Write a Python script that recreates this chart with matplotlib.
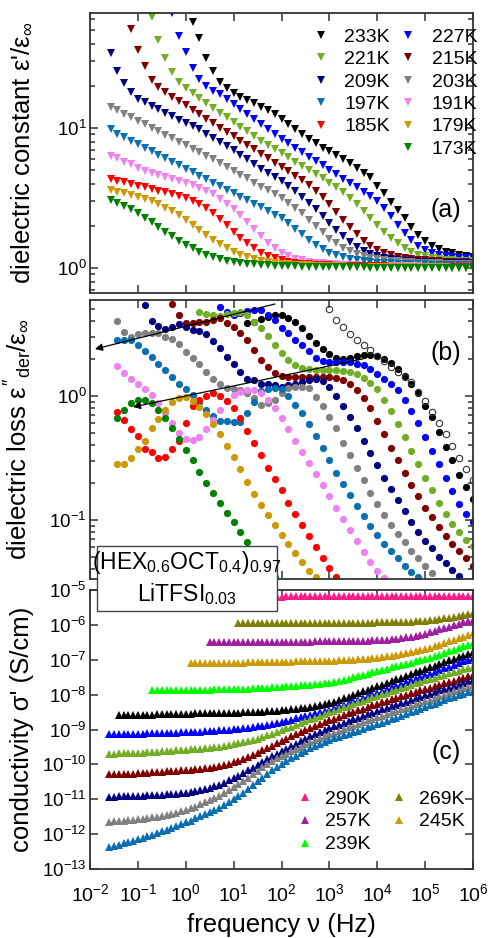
import numpy as np
import matplotlib
matplotlib.use("Agg")
import matplotlib.pyplot as plt
from matplotlib.ticker import NullLocator, NullFormatter, FixedLocator
from matplotlib.lines import Line2D
from matplotlib.patches import Rectangle

plt.rcParams['font.family'] = ['Liberation Sans', 'DejaVu Sans']
plt.rcParams['mathtext.fontset'] = 'custom'
plt.rcParams['mathtext.rm'] = 'Liberation Sans'
plt.rcParams['mathtext.it'] = 'Liberation Sans'
plt.rcParams['mathtext.bf'] = 'Liberation Sans:bold'

# ---------------- frequency grids (measurement frequencies) ----------------
freq_eps = 10 ** (6 - np.arange(53, -1, -1) / 7)      # 7 points / decade, ends at 1 MHz
freq_sig = 10 ** (-1.6 + 0.1 * np.arange(77))          # 10 points / decade

temps_eps = ['233K', '227K', '221K', '215K', '209K', '203K', '197K', '191K', '185K', '179K', '173K']
colors = {'233K': '#000000', '227K': '#0000ff', '221K': '#72ae25', '215K': '#800000',
          '209K': '#000080', '203K': '#808080', '197K': '#0a6fb0', '191K': '#ee82ee',
          '185K': '#ff0000', '179K': '#cc9a06', '173K': '#008000',
          '290K': '#ff1a8c', '269K': '#808000', '257K': '#a020a0', '245K': '#cc9a06',
          '239K': '#00ff00'}

# tick positions
x_decades = [1e-2, 1e-1, 1e0, 1e1, 1e2, 1e3, 1e4, 1e5, 1e6]
ya_major = [1.0, 10.0]
yb_major = [0.1, 1.0]
yc_major = [1e-13, 1e-12, 1e-11, 1e-10, 1e-9, 1e-8, 1e-7, 1e-6, 1e-5]

# ---------------- (a) log10(eps'/eps_inf), series end at 1 MHz ----------------
eps_233 = [1.76, 1.64, 1.50, 1.41, 1.33, 1.283, 1.252, 1.224, 1.20, 1.176, 1.152, 1.129, 1.098, 1.064,
           1.029, 0.99, 0.955, 0.919, 0.89, 0.86, 0.836, 0.807, 0.776, 0.748, 0.712, 0.681, 0.648, 0.586,
           0.533, 0.474, 0.414, 0.355, 0.295, 0.236, 0.195, 0.157, 0.133, 0.117, 0.105, 0.095, 0.088, 0.081]
eps_227 = [1.82, 1.66, 1.545, 1.43, 1.35, 1.30, 1.267, 1.243, 1.207, 1.171, 1.135, 1.099, 1.063, 1.027,
           0.991, 0.955, 0.92, 0.889, 0.858, 0.827, 0.795, 0.764, 0.732, 0.70, 0.668, 0.636, 0.605, 0.575,
           0.545, 0.513, 0.48, 0.43, 0.37, 0.31, 0.25, 0.20, 0.16, 0.13, 0.11, 0.095, 0.085, 0.078, 0.073,
           0.07, 0.068]
eps_221 = [1.79, 1.63, 1.50, 1.40, 1.33, 1.285, 1.25, 1.215, 1.18, 1.145, 1.11, 1.075, 1.04, 1.005, 0.975,
           0.945, 0.91, 0.88, 0.85, 0.82, 0.79, 0.76, 0.73, 0.70, 0.67, 0.64, 0.61, 0.575, 0.54, 0.50, 0.455,
           0.41, 0.36, 0.31, 0.26, 0.215, 0.175, 0.14, 0.115, 0.095, 0.082, 0.072, 0.065, 0.06, 0.056, 0.053,
           0.05, 0.048]
eps_215 = [1.705, 1.557, 1.44, 1.345, 1.29, 1.255, 1.224, 1.192, 1.161, 1.129, 1.098, 1.066, 1.035, 1.003,
           0.972, 0.94, 0.909, 0.877, 0.846, 0.814, 0.783, 0.751, 0.72, 0.69, 0.66, 0.625, 0.59, 0.55, 0.505,
           0.455, 0.40, 0.345, 0.29, 0.24, 0.195, 0.16, 0.13, 0.108, 0.092, 0.08, 0.07, 0.063, 0.058, 0.054,
           0.05, 0.047, 0.045, 0.043, 0.041, 0.039, 0.038]
eps_209 = [1.533, 1.41, 1.32, 1.255, 1.21, 1.185, 1.16, 1.135, 1.11, 1.085, 1.06, 1.035, 1.015, 0.99, 0.96,
           0.93, 0.90, 0.87, 0.84, 0.805, 0.775, 0.745, 0.71, 0.68, 0.65, 0.62, 0.585, 0.55, 0.51, 0.465,
           0.42, 0.37, 0.32, 0.27, 0.225, 0.185, 0.15, 0.122, 0.10, 0.085, 0.073, 0.064, 0.057, 0.052, 0.048,
           0.045, 0.042, 0.04, 0.038, 0.036, 0.035, 0.034, 0.033, 0.032]
eps_203 = [1.15, 1.125, 1.10, 1.075, 1.05, 1.025, 1.0, 0.975, 0.95, 0.925, 0.90, 0.875, 0.85, 0.825, 0.80,
           0.775, 0.75, 0.72, 0.695, 0.665, 0.64, 0.61, 0.58, 0.555, 0.525, 0.50, 0.465, 0.43, 0.39, 0.345,
           0.30, 0.255, 0.21, 0.175, 0.145, 0.12, 0.10, 0.085, 0.073, 0.064, 0.057, 0.051, 0.047, 0.043, 0.04,
           0.038, 0.036, 0.034, 0.032, 0.031, 0.03, 0.029, 0.028, 0.027]
eps_197 = [0.99, 0.96, 0.935, 0.91, 0.885, 0.86, 0.835, 0.81, 0.785, 0.76, 0.735, 0.71, 0.685, 0.66, 0.635,
           0.61, 0.585, 0.56, 0.535, 0.51, 0.485, 0.46, 0.435, 0.405, 0.38, 0.355, 0.32, 0.28, 0.24, 0.20,
           0.165, 0.135, 0.11, 0.09, 0.075, 0.063, 0.054, 0.047, 0.042, 0.038, 0.035, 0.032, 0.03, 0.028,
           0.027, 0.026, 0.025, 0.024, 0.023, 0.022, 0.021, 0.021, 0.02, 0.02]
eps_191 = [0.80, 0.785, 0.76, 0.74, 0.715, 0.695, 0.68, 0.665, 0.65, 0.635, 0.62, 0.605, 0.59, 0.57, 0.55,
           0.525, 0.495, 0.46, 0.42, 0.375, 0.325, 0.275, 0.225, 0.18, 0.14, 0.11, 0.085, 0.067, 0.054, 0.044,
           0.037, 0.032, 0.028, 0.025, 0.022, 0.02, 0.018, 0.017, 0.016, 0.015, 0.014, 0.013, 0.012, 0.012,
           0.011, 0.011, 0.01, 0.01, 0.01, 0.009, 0.009, 0.009, 0.008, 0.008]
eps_185 = [0.636, 0.62, 0.612, 0.60, 0.588, 0.578, 0.565, 0.552, 0.54, 0.528, 0.515, 0.50, 0.48, 0.455,
           0.425, 0.39, 0.35, 0.305, 0.26, 0.215, 0.175, 0.14, 0.11, 0.087, 0.069, 0.055, 0.045, 0.037, 0.031,
           0.027, 0.024, 0.021, 0.019, 0.017, 0.016, 0.015, 0.014, 0.013, 0.012, 0.011, 0.011, 0.01, 0.01,
           0.009, 0.009, 0.008, 0.008, 0.008, 0.007, 0.007, 0.007, 0.006, 0.006, 0.006]
eps_179 = [0.56, 0.545, 0.537, 0.522, 0.507, 0.495, 0.475, 0.46, 0.43, 0.405, 0.375, 0.34, 0.305, 0.27,
           0.235, 0.20, 0.17, 0.14, 0.115, 0.095, 0.078, 0.064, 0.053, 0.044, 0.037, 0.031, 0.027, 0.023, 0.02,
           0.018, 0.016, 0.014, 0.013, 0.012, 0.011, 0.01, 0.009, 0.009, 0.008, 0.008, 0.007, 0.007, 0.006,
           0.006, 0.005, 0.005, 0.005, 0.004, 0.004, 0.004, 0.003, 0.003, 0.003, 0.002]
eps_173 = [0.486, 0.464, 0.443, 0.42, 0.39, 0.36, 0.325, 0.29, 0.255, 0.225, 0.195, 0.165, 0.14, 0.115,
           0.095, 0.078, 0.064, 0.053, 0.044, 0.037, 0.031, 0.026, 0.022, 0.019, 0.016, 0.014, 0.012, 0.011,
           0.01, 0.009, 0.008, 0.007, 0.006, 0.006, 0.005, 0.005, 0.004, 0.004, 0.003, 0.003, 0.003, 0.002,
           0.002, 0.002, 0.001, 0.001, 0.001, 0.0, 0.0, 0.0, 0.0, -0.001, -0.001, -0.002]

# ---------------- (b) log10(eps''_der/eps_inf), with index of first frequency ----------------
loss_233 = [0.59, 0.60, 0.62, 0.64, 0.65, 0.655, 0.63, 0.595, 0.55, 0.48, 0.43, 0.375, 0.335, 0.31, 0.30,
            0.31, 0.32, 0.33, 0.33, 0.325, 0.30, 0.265, 0.22, 0.16, 0.10, 0.02, -0.08, -0.17, -0.29, -0.41,
            -0.52, -0.64, -0.735, -0.83]
loss_227 = [0.72, 0.68, 0.655, 0.67, 0.685, 0.695, 0.69, 0.655, 0.61, 0.55, 0.505, 0.455, 0.41, 0.36, 0.31,
            0.28, 0.27, 0.27, 0.275, 0.27, 0.26, 0.25, 0.22, 0.18, 0.14, 0.10, 0.05, -0.03, -0.12, -0.22,
            -0.33, -0.44, -0.55, -0.66, -0.77, -0.87, -0.95, -1.02]
loss_221 = [0.68, 0.665, 0.65, 0.645, 0.66, 0.67, 0.675, 0.65, 0.60, 0.55, 0.48, 0.41, 0.345, 0.29, 0.25,
            0.225, 0.215, 0.21, 0.21, 0.21, 0.21, 0.205, 0.195, 0.175, 0.145, 0.105, 0.055, -0.03, -0.12,
            -0.23, -0.33, -0.44, -0.55, -0.66, -0.76, -0.86, -0.95, -1.03, -1.10, -1.16, -1.21]
loss_215 = [0.74, 0.65, 0.59, 0.59, 0.60, 0.60, 0.61, 0.625, 0.59, 0.56, 0.51, 0.45, 0.37, 0.29, 0.235,
            0.185, 0.16, 0.15, 0.15, 0.15, 0.15, 0.15, 0.15, 0.15, 0.145, 0.13, 0.10, 0.05, -0.02, -0.10,
            -0.20, -0.31, -0.42, -0.52, -0.62, -0.72, -0.81, -0.90, -0.98, -1.06, -1.13, -1.19, -1.25,
            -1.31, -1.37]
loss_209 = [0.73, 0.605, 0.565, 0.54, 0.555, 0.58, 0.56, 0.53, 0.525, 0.50, 0.445, 0.385, 0.315, 0.255,
            0.195, 0.14, 0.125, 0.10, 0.095, 0.085, 0.075, 0.085, 0.095, 0.11, 0.13, 0.14, 0.12, 0.07, 0.0,
            -0.08, -0.17, -0.26, -0.36, -0.46, -0.56, -0.66, -0.75, -0.84, -0.93, -1.02, -1.10, -1.17,
            -1.23, -1.30, -1.35, -1.40, -1.45]
loss_203 = [0.605, 0.516, 0.476, 0.50, 0.508, 0.508, 0.508, 0.476, 0.46, 0.419, 0.355, 0.306, 0.258, 0.194,
            0.137, 0.097, 0.065, 0.056, 0.048, 0.024, -0.016, -0.073, -0.056, -0.032, 0.024, 0.065, 0.073,
            0.073, 0.065, -0.008, -0.08, -0.169, -0.258, -0.379, -0.48, -0.58, -0.68, -0.78, -0.87, -0.96,
            -1.04, -1.11, -1.18, -1.25, -1.31, -1.37, -1.43]
loss_197 = [0.45, 0.455, 0.45, 0.41, 0.365, 0.315, 0.26, 0.21, 0.155, 0.10, 0.055, 0.005, -0.05, -0.11,
            -0.165, -0.20, -0.205, -0.21, -0.21, -0.14, -0.05, 0.04, 0.06, 0.065, 0.06, 0.0, -0.07, -0.14,
            -0.23, -0.32, -0.42, -0.52, -0.62, -0.71, -0.80, -0.89, -0.97, -1.05, -1.12, -1.19, -1.25, -1.31,
            -1.37, -1.42, -1.46]
loss_191 = [0.24, 0.185, 0.135, 0.10, 0.055, 0.01, -0.06, -0.14, -0.22, -0.30, -0.35, -0.355, -0.33, -0.27,
            -0.19, -0.11, -0.04, 0.005, 0.035, 0.045, 0.045, 0.02, -0.03, -0.10, -0.18, -0.27, -0.36, -0.45,
            -0.54, -0.63, -0.72, -0.81, -0.90, -0.99, -1.08, -1.17, -1.26, -1.34, -1.41, -1.47]
loss_185 = [-0.13, -0.19, -0.27, -0.32, -0.43, -0.45, -0.50, -0.49, -0.43, -0.36, -0.22, -0.08, -0.03, 0.0,
            0.02, 0.0, -0.04, -0.10, -0.18, -0.28, -0.38, -0.48, -0.58, -0.67, -0.76, -0.86, -0.95, -1.04,
            -1.13, -1.22, -1.31, -1.39, -1.46]
loss_179 = [-0.55, -0.545, -0.50, -0.43, -0.365, -0.26, -0.185, -0.11, -0.05, -0.02, -0.01, -0.04, -0.085,
            -0.145, -0.225, -0.31, -0.40, -0.49, -0.59, -0.69, -0.79, -0.88, -0.96, -1.04, -1.12, -1.19,
            -1.27, -1.34, -1.41, -1.46]
loss_173 = [-0.18, -0.113, -0.055, -0.035, -0.035, -0.06, -0.11, -0.18, -0.26, -0.345, -0.435, -0.52, -0.61,
            -0.70, -0.78, -0.86, -0.94, -1.02, -1.10, -1.18, -1.26, -1.34, -1.41, -1.46]
loss_open = [0.70, 0.615, 0.555, 0.50, 0.455, 0.41, 0.37, 0.325, 0.28, 0.235, 0.19, 0.15, 0.11, 0.035,
             -0.04, -0.13, -0.22, -0.31, -0.40, -0.50, -0.59, -0.68]
loss_first = {'233K': 20, '227K': 16, '221K': 13, '215K': 9, '209K': 5, '203K': 1, '197K': 1,
              '191K': 1, '185K': 1, '179K': 1, '173K': 1, 'open': 32}

# ---------------- (c) log10(sigma' / S cm^-1), series end at 1 MHz ----------------
sig_290 = [-5.19, -5.19, -5.18, -5.18, -5.18, -5.18, -5.18, -5.18, -5.18, -5.18, -5.18, -5.18, -5.18, -5.18,
           -5.18, -5.18, -5.18, -5.18, -5.18, -5.18, -5.18, -5.18, -5.18, -5.18, -5.18, -5.18, -5.18, -5.18,
           -5.18, -5.18, -5.18, -5.18, -5.18, -5.18, -5.18, -5.18, -5.18, -5.18, -5.17, -5.17, -5.17, -5.17]
sig_269 = [-5.96, -5.96, -5.96, -5.96, -5.96, -5.96, -5.95, -5.95, -5.95, -5.95, -5.95, -5.95, -5.95, -5.95,
           -5.95, -5.95, -5.95, -5.95, -5.95, -5.95, -5.95, -5.94, -5.94, -5.94, -5.94, -5.94, -5.94, -5.94,
           -5.94, -5.93, -5.93, -5.93, -5.93, -5.92, -5.92, -5.91, -5.91, -5.90, -5.89, -5.88, -5.87, -5.85,
           -5.83, -5.81, -5.79, -5.76, -5.74, -5.71, -5.69, -5.66]
sig_257 = [-6.50, -6.50, -6.50, -6.50, -6.49, -6.49, -6.49, -6.49, -6.49, -6.49, -6.49, -6.49, -6.49, -6.48,
           -6.48, -6.48, -6.48, -6.48, -6.48, -6.48, -6.48, -6.48, -6.47, -6.47, -6.47, -6.47, -6.47, -6.47,
           -6.46, -6.46, -6.46, -6.46, -6.45, -6.45, -6.44, -6.44, -6.43, -6.42, -6.41, -6.40, -6.38, -6.36,
           -6.34, -6.31, -6.28, -6.25, -6.21, -6.17, -6.13, -6.09, -6.05, -6.01, -5.97, -5.93, -5.90, -5.86]
sig_245 = [-7.10, -7.10, -7.09, -7.09, -7.09, -7.09, -7.09, -7.08, -7.08, -7.08, -7.08, -7.08, -7.07, -7.07,
           -7.07, -7.07, -7.07, -7.06, -7.06, -7.06, -7.06, -7.06, -7.05, -7.05, -7.05, -7.05, -7.04, -7.04,
           -7.04, -7.03, -7.03, -7.02, -7.02, -7.01, -7.00, -6.99, -6.98, -6.97, -6.95, -6.94, -6.92, -6.90,
           -6.88, -6.86, -6.84, -6.81, -6.78, -6.75, -6.72, -6.69, -6.65, -6.61, -6.57, -6.52, -6.47, -6.43,
           -6.38, -6.34, -6.29, -6.24]
sig_239 = [-7.88, -7.88, -7.88, -7.87, -7.87, -7.87, -7.87, -7.87, -7.86, -7.86, -7.86, -7.86, -7.86, -7.85,
           -7.85, -7.85, -7.84, -7.84, -7.84, -7.83, -7.83, -7.82, -7.82, -7.81, -7.80, -7.79, -7.78, -7.77,
           -7.76, -7.75, -7.74, -7.73, -7.72, -7.71, -7.70, -7.69, -7.68, -7.67, -7.64, -7.61, -7.57, -7.54,
           -7.50, -7.47, -7.43, -7.40, -7.36, -7.33, -7.29, -7.26, -7.22, -7.19, -7.15, -7.12, -7.08, -7.05,
           -7.01, -6.98, -6.95, -6.90, -6.86, -6.81, -6.76, -6.71, -6.66, -6.62, -6.57, -6.52]
sig_233 = [-8.58, -8.58, -8.58, -8.58, -8.57, -8.57, -8.57, -8.57, -8.56, -8.56, -8.56, -8.56, -8.55, -8.55,
           -8.55, -8.55, -8.54, -8.54, -8.54, -8.54, -8.53, -8.53, -8.53, -8.52, -8.52, -8.52, -8.51, -8.51,
           -8.50, -8.50, -8.49, -8.48, -8.47, -8.46, -8.45, -8.44, -8.42, -8.41, -8.39, -8.37, -8.35, -8.33,
           -8.30, -8.27, -8.24, -8.20, -8.16, -8.11, -8.06, -8.01, -7.96, -7.91, -7.86, -7.81, -7.76, -7.71,
           -7.66, -7.61, -7.56, -7.51, -7.46, -7.41, -7.36, -7.32, -7.27, -7.22, -7.17, -7.12, -7.07, -7.02,
           -6.97, -6.92, -6.88, -6.83, -6.78]
sig_227 = [-9.14, -9.14, -9.13, -9.13, -9.13, -9.12, -9.12, -9.12, -9.11, -9.11, -9.11, -9.10, -9.10, -9.09,
           -9.09, -9.08, -9.08, -9.07, -9.07, -9.06, -9.05, -9.04, -9.03, -9.02, -9.01, -9.00, -8.99, -8.98,
           -8.96, -8.95, -8.93, -8.91, -8.89, -8.87, -8.84, -8.81, -8.78, -8.75, -8.72, -8.68, -8.65, -8.61,
           -8.57, -8.53, -8.49, -8.47, -8.44, -8.39, -8.34, -8.29, -8.24, -8.19, -8.14, -8.09, -8.04, -7.99,
           -7.94, -7.89, -7.84, -7.79, -7.74, -7.69, -7.64, -7.59, -7.54, -7.49, -7.45, -7.40, -7.35, -7.30,
           -7.25, -7.20, -7.15, -7.10, -7.05, -7.00, -6.95]
sig_221 = [-9.69, -9.69, -9.68, -9.68, -9.67, -9.67, -9.66, -9.66, -9.65, -9.65, -9.64, -9.63, -9.62, -9.61,
           -9.60, -9.59, -9.58, -9.57, -9.56, -9.55, -9.54, -9.52, -9.51, -9.49, -9.47, -9.45, -9.43, -9.40,
           -9.37, -9.34, -9.30, -9.26, -9.22, -9.17, -9.12, -9.07, -9.02, -8.97, -8.92, -8.86, -8.81, -8.76,
           -8.71, -8.66, -8.61, -8.56, -8.51, -8.46, -8.41, -8.36, -8.32, -8.27, -8.22, -8.18, -8.13, -8.08,
           -8.04, -7.99, -7.95, -7.90, -7.86, -7.81, -7.77, -7.72, -7.68, -7.63, -7.59, -7.55, -7.51, -7.47,
           -7.43, -7.39, -7.35, -7.31, -7.27, -7.24, -7.20]
sig_215 = [-10.29, -10.29, -10.28, -10.28, -10.27, -10.27, -10.26, -10.25, -10.24, -10.23, -10.22, -10.21,
           -10.20, -10.19, -10.18, -10.17, -10.16, -10.15, -10.14, -10.12, -10.11, -10.09, -10.07, -10.04,
           -10.01, -9.98, -9.94, -9.89, -9.84, -9.79, -9.73, -9.67, -9.60, -9.53, -9.46, -9.39, -9.32, -9.26,
           -9.19, -9.13, -9.07, -9.01, -8.95, -8.90, -8.84, -8.79, -8.74, -8.69, -8.64, -8.59, -8.54, -8.50,
           -8.45, -8.40, -8.36, -8.31, -8.27, -8.22, -8.18, -8.13, -8.09, -8.05, -8.00, -7.96, -7.92, -7.88,
           -7.84, -7.80, -7.76, -7.72, -7.68, -7.64, -7.60, -7.56, -7.52, -7.48, -7.44]
sig_209 = [-10.93, -10.93, -10.92, -10.92, -10.91, -10.91, -10.90, -10.90, -10.89, -10.88,
           -10.88, -10.87, -10.86, -10.85, -10.84, -10.82, -10.81, -10.79, -10.77, -10.74,
           -10.70, -10.67, -10.63, -10.58, -10.52, -10.46, -10.39, -10.32, -10.25, -10.17,
           -10.09, -10.01, -9.93, -9.85, -9.77, -9.70, -9.62, -9.55, -9.48, -9.41,
           -9.34, -9.27, -9.20, -9.14, -9.08, -9.02, -8.96, -8.91, -8.86, -8.81,
           -8.76, -8.71, -8.66, -8.61, -8.56, -8.52, -8.47, -8.42, -8.38, -8.33,
           -8.29, -8.24, -8.20, -8.15, -8.11, -8.06, -8.02, -7.97, -7.93, -7.88,
           -7.84, -7.80, -7.75, -7.71, -7.67, -7.62, -7.58]
sig_203 = [-11.64, -11.63, -11.62, -11.61, -11.60, -11.59, -11.57, -11.56, -11.54, -11.52,
           -11.50, -11.48, -11.45, -11.42, -11.39, -11.35, -11.31, -11.26, -11.21, -11.15,
           -11.09, -11.03, -10.97, -10.90, -10.82, -10.74, -10.66, -10.57, -10.48, -10.38,
           -10.28, -10.18, -10.08, -9.99, -9.91, -9.83, -9.76, -9.69, -9.62, -9.55,
           -9.49, -9.43, -9.37, -9.31, -9.25, -9.20, -9.14, -9.09, -9.04, -8.99,
           -8.94, -8.89, -8.84, -8.79, -8.74, -8.70, -8.65, -8.60, -8.55, -8.51,
           -8.46, -8.41, -8.37, -8.32, -8.27, -8.23, -8.18, -8.14, -8.09, -8.05,
           -8.00, -7.96, -7.91, -7.87, -7.82, -7.78, -7.73]
sig_197 = [-12.36, -12.33, -12.30, -12.26, -12.23, -12.19, -12.15, -12.11, -12.06, -12.02,
           -11.97, -11.92, -11.87, -11.82, -11.77, -11.72, -11.66, -11.61, -11.55, -11.49,
           -11.43, -11.37, -11.31, -11.24, -11.16, -11.08, -11.00, -10.91, -10.81, -10.71,
           -10.60, -10.49, -10.38, -10.27, -10.17, -10.07, -9.98, -9.90, -9.82, -9.75,
           -9.68, -9.61, -9.54, -9.48, -9.42, -9.36, -9.30, -9.25, -9.21, -9.16,
           -9.12, -9.07, -9.03, -8.98, -8.94, -8.89, -8.85, -8.80, -8.76, -8.71,
           -8.66, -8.61, -8.56, -8.51, -8.46, -8.41, -8.36, -8.31, -8.26, -8.21,
           -8.16, -8.11, -8.07, -8.02, -7.98, -7.93, -7.89]

eps_data = dict(zip(temps_eps, [eps_233, eps_227, eps_221, eps_215, eps_209, eps_203, eps_197,
                                 eps_191, eps_185, eps_179, eps_173]))
loss_data = dict(zip(temps_eps, [loss_233, loss_227, loss_221, loss_215, loss_209, loss_203, loss_197,
                                  loss_191, loss_185, loss_179, loss_173]))
temps_sig = ['290K', '269K', '257K', '245K', '239K', '233K', '227K', '221K', '215K', '209K', '203K', '197K']
sig_data = dict(zip(temps_sig, [sig_290, sig_269, sig_257, sig_245, sig_239, sig_233, sig_227, sig_221,
                                 sig_215, sig_209, sig_203, sig_197]))

# arrows in panel (b): (tail freq, tail value) -> (head freq, head value)
arrow_tails = [(73.0, 5.52), (5000.0, 1.99)]
arrow_heads = [(0.0127, 2.39), (0.079, 0.815)]

# ---------------- figure ----------------
W, H = 490, 938
fig = plt.figure(figsize=(W / 100, H / 100), dpi=100)
L, R = 90, 473
ax_a = fig.add_axes([L / W, 1 - 293 / H, (R - L) / W, 280 / H])
ax_b = fig.add_axes([L / W, 1 - 579 / H, (R - L) / W, 279 / H])
ax_c = fig.add_axes([L / W, 1 - 869 / H, (R - L) / W, 279 / H])

MS_A, MS_B, MS_C = 5.4, 5.2, 5.6
for t in temps_eps:
    v = np.array(eps_data[t])
    ax_a.plot(freq_eps[-len(v):], 10 ** v, ls='none', marker='v', ms=MS_A, color=colors[t], mew=0)

for t in temps_eps:
    v = np.array(loss_data[t])
    s = loss_first[t]
    ax_b.plot(freq_eps[s:s + len(v)], 10 ** v, ls='none', marker='o', ms=MS_B, color=colors[t], mew=0)
v = np.array(loss_open)
s = loss_first['open']
ax_b.plot(freq_eps[s:s + len(v)], 10 ** v, ls='none', marker='o', ms=MS_B - 0.6, mfc='none',
          mec='#333333', mew=0.8)

for (xt, yt), (xh, yh) in zip(arrow_tails, arrow_heads):
    ax_b.annotate('', xy=(xh, yh), xytext=(xt, yt),
                  arrowprops=dict(arrowstyle='-|>', color='black', lw=0.9,
                                  mutation_scale=11, shrinkA=0, shrinkB=0))

for t in temps_sig:
    v = np.array(sig_data[t])
    ax_c.plot(freq_sig[-len(v):], 10 ** v, ls='none', marker='^', ms=MS_C, color=colors[t], mew=0)

# ---------------- axes styling ----------------
for ax in (ax_a, ax_b, ax_c):
    ax.set_xscale('log')
    ax.set_yscale('log')
    ax.set_xlim(1e-2, 1e6)
    ax.xaxis.set_major_locator(FixedLocator(x_decades))
    ax.xaxis.set_minor_locator(NullLocator())
    ax.tick_params(which='both', direction='in', top=True, right=True, labelsize=14,
                   width=1.1, color='#333333')
    ax.tick_params(which='major', length=6)
    ax.tick_params(which='minor', length=3.5)
    ax.tick_params(axis='y', pad=2.5, labelsize=13.5)
    ax.tick_params(axis='x', pad=10.5)
    for sp in ax.spines.values():
        sp.set_linewidth(1.3)
        sp.set_color('#333333')

ax_a.set_ylim(10 ** -0.179, 10 ** 1.821)
ax_b.set_ylim(10 ** -1.476, 10 ** 0.774)
ax_c.set_ylim(1e-13, 1e-5)
ax_a.yaxis.set_major_locator(FixedLocator(ya_major))
ax_b.yaxis.set_major_locator(FixedLocator(yb_major))
ax_c.yaxis.set_major_locator(FixedLocator(yc_major))
ax_a.yaxis.set_minor_locator(FixedLocator([0.7, 0.8, 0.9] + [m * 1.0 for m in range(2, 10)]
                                          + [m * 10.0 for m in range(2, 7)]))
ax_b.yaxis.set_minor_locator(FixedLocator([m * 0.01 for m in range(4, 10)]
                                          + [m * 0.1 for m in range(2, 10)]
                                          + [m * 1.0 for m in range(2, 6)]))
ax_c.yaxis.set_minor_locator(NullLocator())
for ax in (ax_a, ax_b):
    ax.yaxis.set_minor_formatter(NullFormatter())
    ax.tick_params(axis='x', labelbottom=False)

ax_a.set_ylabel("dielectric constant ε'/ε$_{\\infty}$", fontsize=18.5)
ax_b.set_ylabel("dielectric loss $ε''_{\\mathrm{der}}$/ε$_{\\infty}$", fontsize=18.5)
ax_c.set_ylabel("conductivity σ' (S/cm)", fontsize=18.5)
for ax in (ax_a, ax_b, ax_c):
    ax.yaxis.set_label_coords((34 - L) / (R - L), 0.5)
ax_c.set_xlabel("frequency ν (Hz)", fontsize=18.5)
ax_c.xaxis.set_label_coords(0.5, (869 - 913) / 279)
ax_c.xaxis.label.set_verticalalignment('top')

ax_a.text(0.93, 0.296, '(a)', transform=ax_a.transAxes, fontsize=18, ha='center', va='center')
ax_b.text(0.93, 0.81, '(b)', transform=ax_b.transAxes, fontsize=18, ha='center', va='center')
ax_c.text(0.93, 0.42, '(c)', transform=ax_c.transAxes, fontsize=18, ha='center', va='center')

# ---------------- legends ----------------
def h(t, m, ms):
    return Line2D([], [], ls='none', marker=m, ms=ms, color=colors[t], mew=0, label=t)

blank = Line2D([], [], ls='none', label='')
hA = [h('233K', 'v', MS_A), h('221K', 'v', MS_A), h('209K', 'v', MS_A), h('197K', 'v', MS_A),
      h('185K', 'v', MS_A), blank,
      h('227K', 'v', MS_A), h('215K', 'v', MS_A), h('203K', 'v', MS_A), h('191K', 'v', MS_A),
      h('179K', 'v', MS_A), h('173K', 'v', MS_A)]
ax_a.legend(handles=hA, ncol=2, frameon=False, fontsize=14, loc='upper left',
            bbox_to_anchor=(312 / W, 1 - 28 / H), bbox_transform=fig.transFigure,
            borderpad=0, borderaxespad=0, handlelength=0.9, handletextpad=0.75,
            columnspacing=0.5, labelspacing=0.25)
hC = [h('290K', '^', MS_C), h('257K', '^', MS_C), h('239K', '^', MS_C), h('269K', '^', MS_C),
      h('245K', '^', MS_C)]
ax_c.legend(handles=hC, ncol=2, frameon=False, fontsize=14, loc='upper left',
            bbox_to_anchor=(296 / W, 1 - 790 / H), bbox_transform=fig.transFigure,
            borderpad=0, borderaxespad=0, handlelength=0.9, handletextpad=0.6,
            columnspacing=1.0, labelspacing=0.27)

# ---------------- sample label box ----------------
bx0, by0, bx1, by1 = 97, 546, 277, 611
fig.add_artist(Rectangle((bx0 / W, 1 - by1 / H), (bx1 - bx0) / W, (by1 - by0) / H,
                         transform=fig.transFigure, facecolor='white', edgecolor='#444444',
                         lw=1.0, zorder=20))
fig.text((bx0 + bx1) / 2 / W, 1 - 562 / H, '(HEX$_{0.6}$OCT$_{0.4}$)$_{0.97}$', fontsize=16.5,
         ha='center', va='center', zorder=21)
fig.text((bx0 + bx1) / 2 / W, 1 - 594 / H, 'LiTFSI$_{0.03}$', fontsize=16.5,
         ha='center', va='center', zorder=21)

fig.savefig('out.png', dpi=100)
